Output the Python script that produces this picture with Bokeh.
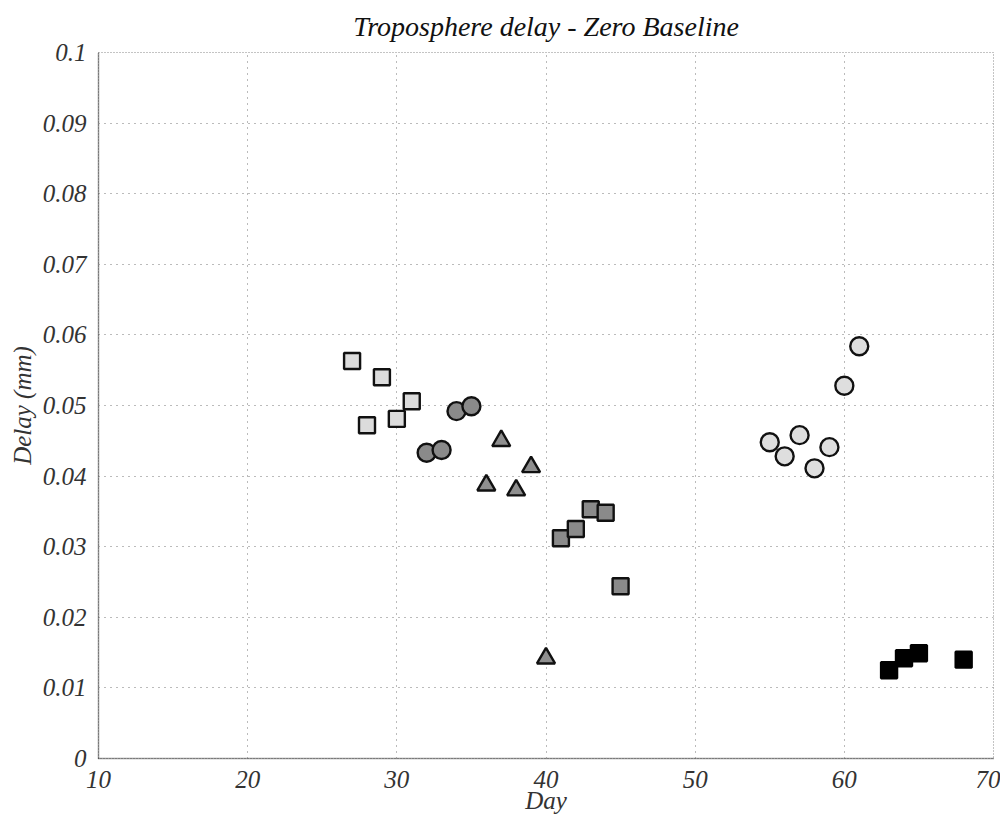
from bokeh.plotting import figure
from bokeh.models import FixedTicker, Range1d
from bokeh.embed import file_html
from bokeh.resources import INLINE

# Data
days_a = [27, 28, 29, 30, 31]
delay_a = [0.0563, 0.0472, 0.0540, 0.0481, 0.0506]

days_b = [32, 33, 34, 35]
delay_b = [0.0433, 0.0437, 0.0492, 0.0499]

days_c = [36, 37, 38, 39, 40]
delay_c = [0.0387, 0.0450, 0.0380, 0.0413, 0.0142]

days_d = [41, 42, 43, 44, 45]
delay_d = [0.0312, 0.0325, 0.0353, 0.0348, 0.0244]

days_e = [55, 56, 57, 58, 59, 60, 61]
delay_e = [0.0448, 0.0428, 0.0458, 0.0411, 0.0441, 0.0528, 0.0584]

days_f = [63, 64, 65, 68]
delay_f = [0.0125, 0.0142, 0.0149, 0.0140]

x_ticks = [10, 20, 30, 40, 50, 60, 70]
y_ticks = [0, 0.01, 0.02, 0.03, 0.04, 0.05, 0.06, 0.07, 0.08, 0.09, 0.1]
y_labels = ["0", "0.01", "0.02", "0.03", "0.04", "0.05", "0.06", "0.07", "0.08", "0.09", "0.1"]

FONT = "Liberation Serif"

p = figure(width=1000, height=816, output_backend="svg", toolbar_location=None,
           x_range=Range1d(10, 70), y_range=Range1d(0, 0.1),
           min_border_left=98, min_border_top=52, min_border_right=7, min_border_bottom=55)

p.title.text = "Troposphere delay - Zero Baseline"
p.title.align = "center"
p.title.vertical_align = "top"
p.title.text_font = FONT
p.title.text_font_style = "italic"
p.title.text_font_size = "28px"
p.title.text_color = "#111111"
p.title.offset = -8
p.title.standoff = 18

p.outline_line_color = "#888888"
p.outline_line_dash = "1 2"
p.outline_line_width = 1

for ax in (p.xaxis[0], p.yaxis[0]):
    ax.axis_line_color = "#333333"
    ax.axis_line_dash = "1 1"
    ax.axis_line_width = 1.5
    ax.major_tick_line_color = None
    ax.minor_tick_line_color = None
    ax.major_label_text_font = FONT
    ax.major_label_text_font_style = "italic"
    ax.major_label_text_font_size = "25px"
    ax.major_label_text_color = "#333333"
    ax.axis_label_text_font = FONT
    ax.axis_label_text_font_style = "italic"
    ax.axis_label_text_font_size = "25px"
    ax.axis_label_text_color = "#333333"

p.xaxis.ticker = FixedTicker(ticks=x_ticks)
p.yaxis.ticker = FixedTicker(ticks=y_ticks)
p.yaxis.major_label_overrides = {t: l for t, l in zip(y_ticks, y_labels)}
p.xaxis.axis_label = "Day"
p.yaxis.axis_label = "Delay (mm)"
p.xaxis.major_label_standoff = 6
p.yaxis.major_label_standoff = 6
p.xaxis.axis_label_standoff = -4
p.yaxis.axis_label_standoff = 4

for g in (p.xgrid[0], p.ygrid[0]):
    g.grid_line_color = "#777777"
    g.grid_line_dash = "1 5"
    g.grid_line_width = 1

lw = 2.4
p.scatter(days_a, delay_a, marker="square", size=16, fill_color="#dcdcdc",
          line_color="#111111", line_width=lw)
p.scatter(days_b, delay_b, marker="circle", size=18, fill_color="#8a8a8a",
          line_color="#111111", line_width=lw)
p.scatter(days_c, delay_c, marker="triangle", size=18, fill_color="#8f8f8f",
          line_color="#111111", line_width=lw)
p.scatter(days_d, delay_d, marker="square", size=16, fill_color="#8a8a8a",
          line_color="#111111", line_width=lw)
p.scatter(days_e, delay_e, marker="circle", size=18, fill_color="#dedede",
          line_color="#111111", line_width=lw)
p.scatter(days_f, delay_f, marker="square", size=16, fill_color="#000000",
          line_color="#000000", line_width=lw)

open("out.html", "w").write(file_html(p, INLINE))
